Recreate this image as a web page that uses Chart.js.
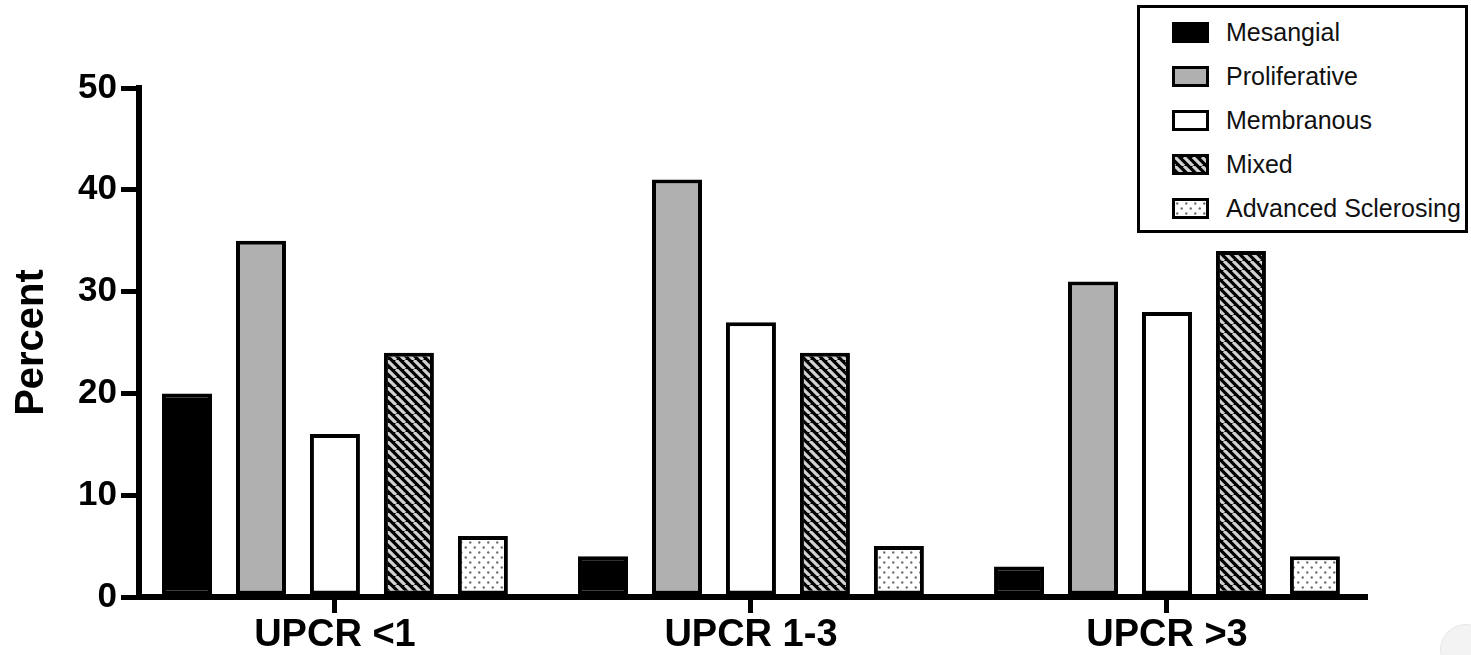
<!DOCTYPE html>
<html>
<head>
<meta charset="utf-8">
<title>Glomerular lesion class by UPCR group</title>
<script src="https://cdn.jsdelivr.net/npm/chart.js@4/dist/chart.umd.min.js"></script>
<style>
  html, body { margin: 0; padding: 0; background: #fff; }
  #wrap { position: relative; width: 1471px; height: 655px; overflow: hidden; }
  #chart { position: absolute; left: 0; top: 0; }
  #legend {
    position: absolute; left: 1137px; top: 5px; width: 325px; height: 222px;
    border: 3px solid #000; background: #fff;
    font-family: Arial, "Liberation Sans", Helvetica, sans-serif; font-size: 25px; color: #111;
  }
  .item { position: absolute; left: 32px; height: 26px; display: flex; align-items: center; white-space: nowrap; }
  .sw { width: 31px; height: 15px; border: 3px solid #000; margin-right: 17px; flex: none; }
  #corner {
    position: absolute; left: 1440px; top: 624px; width: 50px; height: 50px; border-radius: 50%;
    background: #f3f3f3; border: 1px solid #e6e6e6;
  }
</style>
</head>
<body>
<div id="wrap">
  <canvas id="chart" width="1471" height="655"></canvas>
  <div id="legend"></div>
  <div id="corner"></div>
</div>
<script>
// Groups along the x axis
const categories = ['UPCR <1', 'UPCR 1-3', 'UPCR >3'];

// Percent of biopsies in each lesion class, per group
const mesangial = [20, 4, 3];
const proliferative = [35, 41, 31];
const membranous = [16, 27, 28];
const mixed = [24, 24, 34];
const advancedSclerosing = [6, 5, 4];

const seriesNames = ['Mesangial', 'Proliferative', 'Membranous', 'Mixed', 'Advanced Sclerosing'];
const yTicks = [0, 10, 20, 30, 40, 50];

const FONT = 'Arial, "Liberation Sans", Helvetica, sans-serif';

// Diagonal hatch tile: light stripes on black
function hatchTile() {
  const c = document.createElement('canvas');
  c.width = 9; c.height = 9;
  const g = c.getContext('2d');
  g.fillStyle = '#000';
  g.fillRect(0, 0, 9, 9);
  g.strokeStyle = '#d2d2d2';
  g.lineWidth = 3.2;
  g.beginPath();
  for (const o of [-9, 0, 9]) { g.moveTo(o, 0); g.lineTo(o + 9, 9); }
  g.stroke();
  return c;
}

// Stippled tile: grey dots on white, staggered rows
function dotTile() {
  const c = document.createElement('canvas');
  c.width = 9; c.height = 10;
  const g = c.getContext('2d');
  g.fillStyle = '#fff';
  g.fillRect(0, 0, 9, 10);
  g.fillStyle = '#6e6e6e';
  for (const [x, y] of [[2.25, 2.5], [6.75, 7.5]]) {
    g.beginPath(); g.arc(x, y, 1.2, 0, Math.PI * 2); g.fill();
  }
  return c;
}

const canvas = document.getElementById('chart');
const ctx = canvas.getContext('2d');
const hatch = hatchTile();
const dots = dotTile();

const fills = [
  { fill: '#000000', css: '#000' },
  { fill: '#b0b0b0', css: '#b0b0b0' },
  { fill: '#ffffff', css: '#fff' },
  { fill: ctx.createPattern(hatch, 'repeat'), css: 'url(' + hatch.toDataURL() + ')' },
  { fill: ctx.createPattern(dots, 'repeat'), css: 'url(' + dots.toDataURL() + ')' }
];
const seriesValues = [mesangial, proliferative, membranous, mixed, advancedSclerosing];

const datasets = seriesNames.map((name, s) => ({
  label: name,
  data: seriesValues[s].map((v, i) => ({ x: i + 1, y: v })),
  backgroundColor: fills[s].fill,
  borderColor: '#000',
  borderWidth: 4,
  borderSkipped: false
}));

new Chart(ctx, {
  type: 'bar',
  data: { datasets },
  options: {
    responsive: false,
    animation: false,
    devicePixelRatio: 1,
    categoryPercentage: 0.889,
    barPercentage: 0.676,
    layout: { padding: { top: 88, right: 106, bottom: 0, left: 0 } },
    plugins: { legend: { display: false }, tooltip: { enabled: false } },
    scales: {
      x: {
        type: 'linear',
        min: 0.529,
        max: 3.476,
        offset: false,
        z: 1,
        grid: { offset: false, drawOnChartArea: false, color: '#000', lineWidth: 5, tickLength: 16 },
        border: { color: '#000', width: 6 },
        ticks: {
          stepSize: 1,
          includeBounds: false,
          autoSkip: false,
          maxRotation: 0,
          color: '#000',
          padding: 0,
          font: { family: FONT, size: 38, weight: 'bold' },
          callback: v => (Number.isInteger(v) && categories[v - 1]) ? categories[v - 1] : ''
        },
        afterFit: s => { s.height = 58; }
      },
      y: {
        min: yTicks[0],
        max: yTicks[yTicks.length - 1],
        z: 1,
        grid: { drawOnChartArea: false, color: '#000', lineWidth: 5, tickLength: 18 },
        border: { color: '#000', width: 6 },
        afterBuildTicks: s => { s.ticks = yTicks.map(v => ({ value: v })); },
        ticks: {
          color: '#000',
          padding: 4,
          font: { family: FONT, size: 35, weight: 'bold' }
        },
        title: {
          display: true,
          text: 'Percent',
          color: '#000',
          padding: { top: 8, bottom: 0 },
          font: { family: FONT, size: 40, weight: 'bold' }
        },
        afterFit: s => { s.width = 139; }
      }
    }
  }
});

// Boxed legend in the top-right corner
const legend = document.getElementById('legend');
const rowCenters = [24.5, 68.5, 112.5, 156.5, 200.5];
seriesNames.forEach((name, s) => {
  const item = document.createElement('div');
  item.className = 'item';
  item.style.top = (rowCenters[s] - 13) + 'px';
  const sw = document.createElement('span');
  sw.className = 'sw';
  sw.style.background = fills[s].css;
  const label = document.createElement('span');
  label.textContent = name;
  item.appendChild(sw);
  item.appendChild(label);
  legend.appendChild(item);
});
</script>
</body>
</html>
